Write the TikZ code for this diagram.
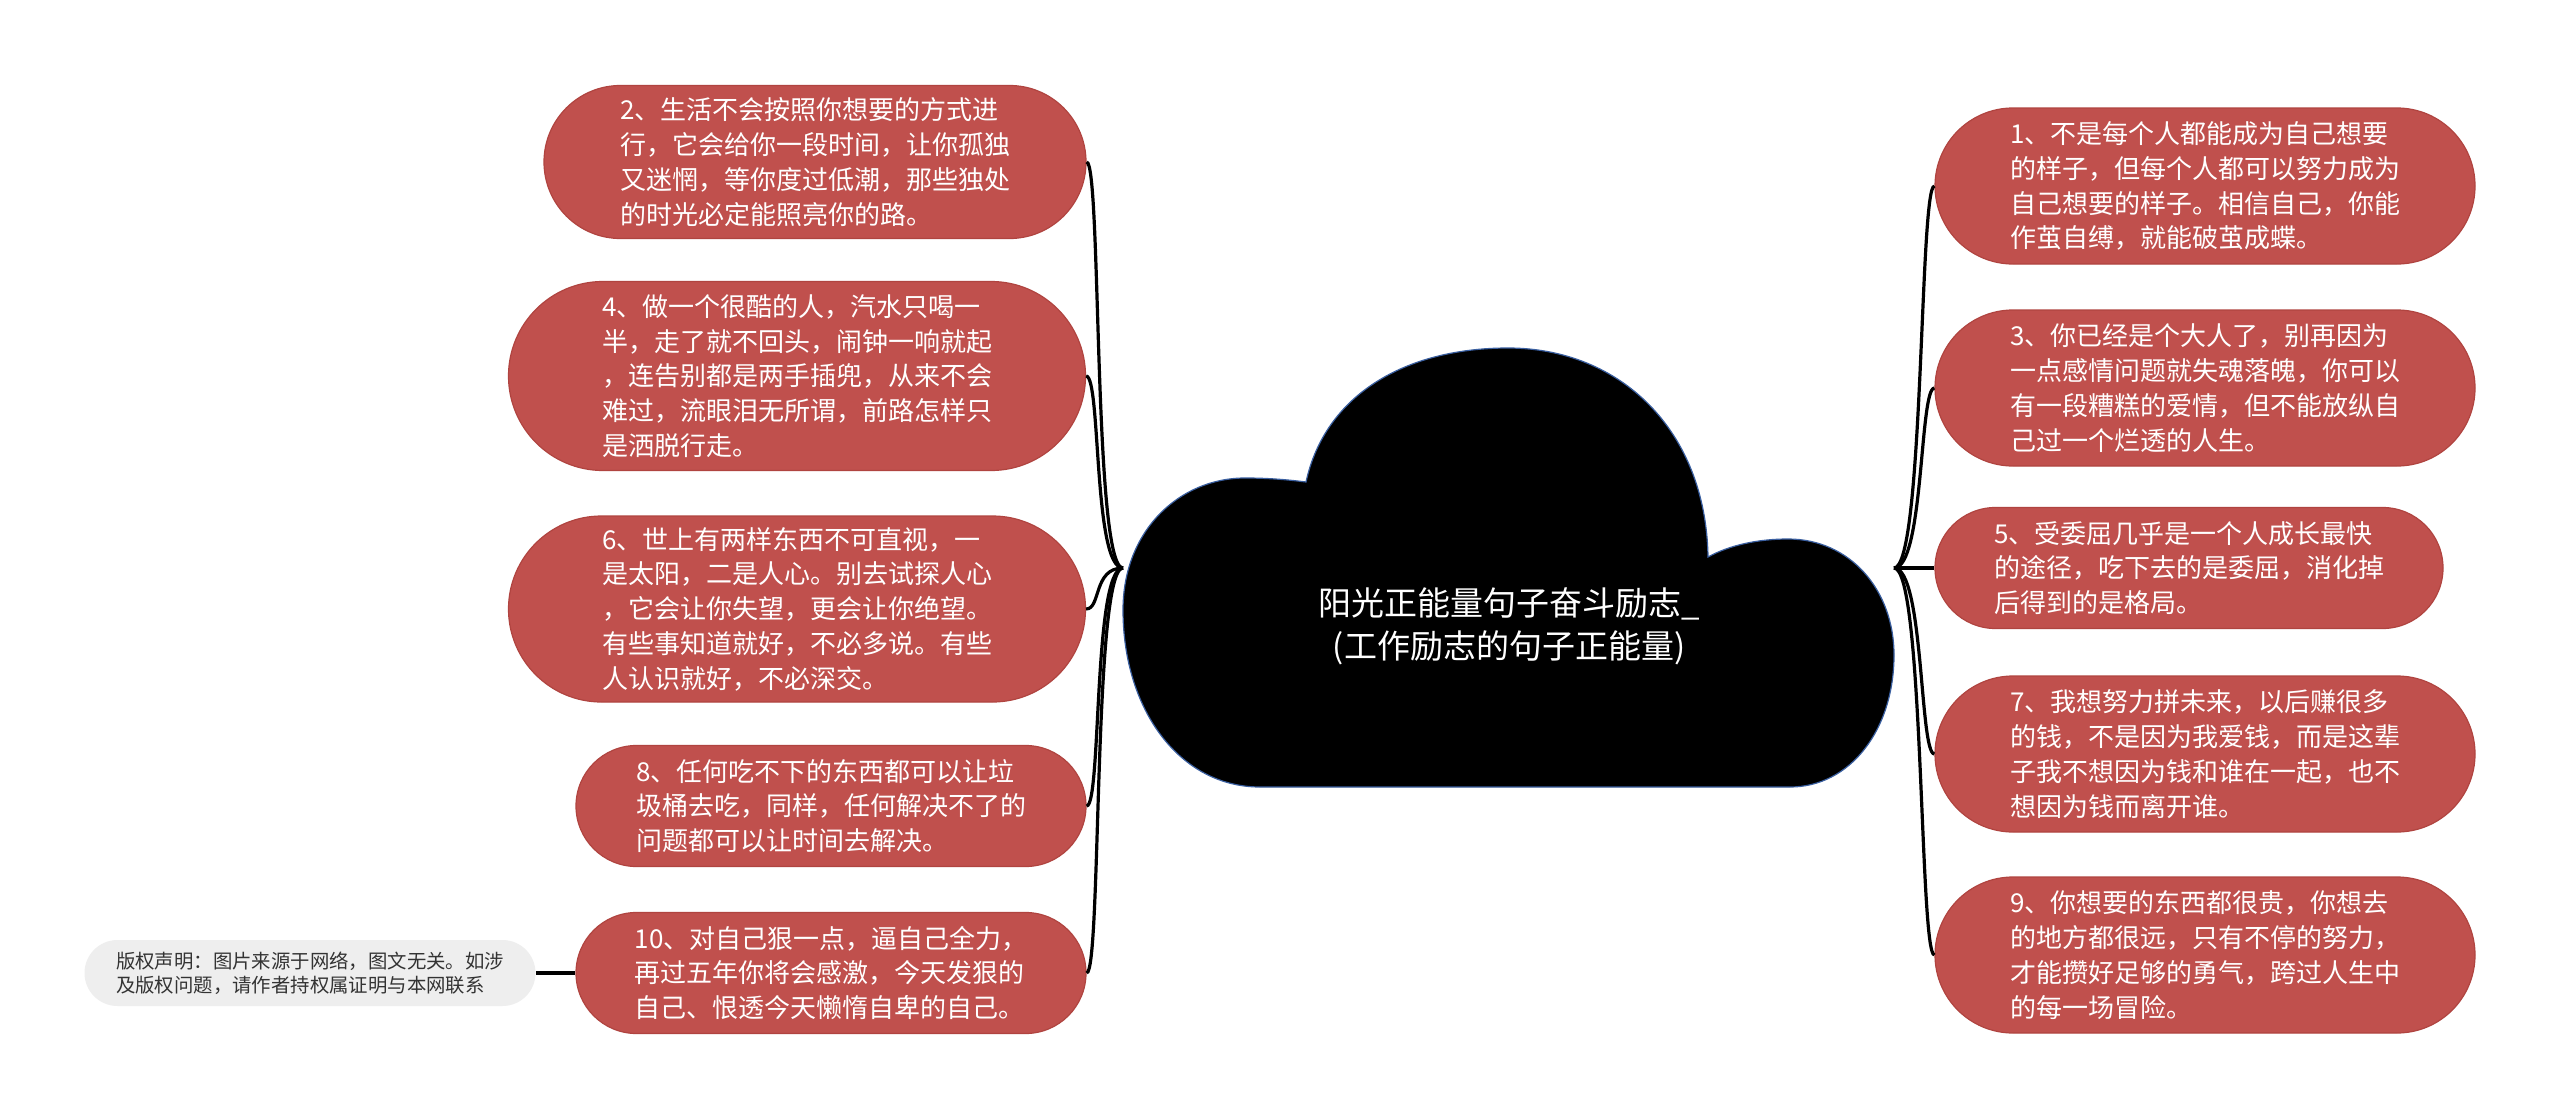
\documentclass[tikz,border=0pt]{standalone}
\usepackage{fontspec}
\setmainfont{Noto Sans CJK SC}
\usetikzlibrary{shapes.misc}
\definecolor{nodered}{HTML}{C0504D}
\definecolor{nodeborder}{HTML}{B04440}
\definecolor{cprfill}{HTML}{EEEEEE}
\definecolor{cprtext}{HTML}{333333}
\definecolor{cloudedge}{HTML}{3A5FA0}
\tikzset{
  leaf/.style={rounded rectangle, fill=nodered, draw=nodeborder, line width=0.6pt,
    text=white, align=left, inner sep=0pt,
    font=\fontsize{13}{17.4}\selectfont},
  cpr/.style={rounded rectangle, fill=cprfill, draw=none, text=cprtext,
    align=left, inner sep=0pt, font=\fontsize{9.7}{12.2}\selectfont},
  conn/.style={line width=1.6pt, black},
  titletext/.style={text=white, align=center, font=\fontsize{16.5}{21.5}\selectfont}
}
\begin{document}
\begin{tikzpicture}[x=0.5pt,y=-0.5pt]
\useasboundingbox (0,0) rectangle (2560,1119);
\fill[white] (0,0) rectangle (2560,1119);

% central cloud
\fill[black, draw=cloudedge, line width=0.6pt]
  (1306,482) .. controls (1325,395) and (1405,348) .. (1508,348)
  .. controls (1620,348) and (1706,430) .. (1708,557)
  .. controls (1730,545) and (1758,539) .. (1788,539)
  .. controls (1850,539) and (1894,590) .. (1894,655)
  .. controls (1894,730) and (1850,787) .. (1790,787)
  -- (1260,787)
  .. controls (1180,787) and (1123,710) .. (1123,610)
  .. controls (1123,530) and (1180,478) .. (1245,478)
  .. controls (1270,478) and (1290,480) .. (1306,482) -- cycle;
\node[titletext] (title) at (1509,626) {阳光正能量句子奋斗励志\_\\(工作励志的句子正能量)};
\coordinate (rootL) at (1123,568);
\coordinate (rootR) at (1894,568);

% left nodes
\node[leaf, minimum width=271pt, minimum height=76.5pt] (L1) at (815,162)
  {2、生活不会按照你想要的方式进\\行，它会给你一段时间，让你孤独\\又迷惘，等你度过低潮，那些独处\\的时光必定能照亮你的路。};
\node[leaf, minimum width=288.5pt, minimum height=94.5pt] (L2) at (797,376)
  {4、做一个很酷的人，汽水只喝一\\半，走了就不回头，闹钟一响就起\\，连告别都是两手插兜，从来不会\\难过，流眼泪无所谓，前路怎样只\\是洒脱行走。};
\node[leaf, minimum width=288.5pt, minimum height=93pt] (L3) at (797,609)
  {6、世上有两样东西不可直视，一\\是太阳，二是人心。别去试探人心\\，它会让你失望，更会让你绝望。\\有些事知道就好，不必多说。有些\\人认识就好，不必深交。};
\node[leaf, minimum width=255pt, minimum height=60.5pt] (L4) at (831,806)
  {8、任何吃不下的东西都可以让垃\\圾桶去吃，同样，任何解决不了的\\问题都可以让时间去解决。};
\node[leaf, minimum width=255pt, minimum height=60.5pt] (L5) at (831,973)
  {10、对自己狠一点，逼自己全力，\\再过五年你将会感激，今天发狠的\\自己、恨透今天懒惰自卑的自己。};
\node[cpr, minimum width=225.5pt, minimum height=33pt] (C) at (310,973)
  {版权声明：图片来源于网络，图文无关。如涉\\及版权问题，请作者持权属证明与本网联系};

% right nodes
\node[leaf, minimum width=270pt, minimum height=78pt] (R1) at (2205,186)
  {1、不是每个人都能成为自己想要\\的样子，但每个人都可以努力成为\\自己想要的样子。相信自己，你能\\作茧自缚，就能破茧成蝶。};
\node[leaf, minimum width=270pt, minimum height=78pt] (R3) at (2205,388)
  {3、你已经是个大人了，别再因为\\一点感情问题就失魂落魄，你可以\\有一段糟糕的爱情，但不能放纵自\\己过一个烂透的人生。};
\node[leaf, minimum width=254pt, minimum height=60.5pt] (R5) at (2189,568)
  {5、受委屈几乎是一个人成长最快\\的途径，吃下去的是委屈，消化掉\\后得到的是格局。};
\node[leaf, minimum width=270pt, minimum height=78pt] (R7) at (2205,754)
  {7、我想努力拼未来，以后赚很多\\的钱，不是因为我爱钱，而是这辈\\子我不想因为钱和谁在一起，也不\\想因为钱而离开谁。};
\node[leaf, minimum width=270pt, minimum height=78pt] (R9) at (2205,955)
  {9、你想要的东西都很贵，你想去\\的地方都很远，只有不停的努力，\\才能攒好足够的勇气，跨过人生中\\的每一场冒险。};

% connectors
\foreach \n in {L1,L2,L3,L4,L5}
  \draw[conn] (rootL) .. controls +(-30,0) and +(15,0) .. (\n.east);
\foreach \n in {R1,R3,R7,R9}
  \draw[conn] (rootR) .. controls +(30,0) and +(-15,0) .. (\n.west);
\draw[conn] (rootR) -- (R5.west);
\draw[conn] (C.east) -- (L5.west);
\end{tikzpicture}
\end{document}
